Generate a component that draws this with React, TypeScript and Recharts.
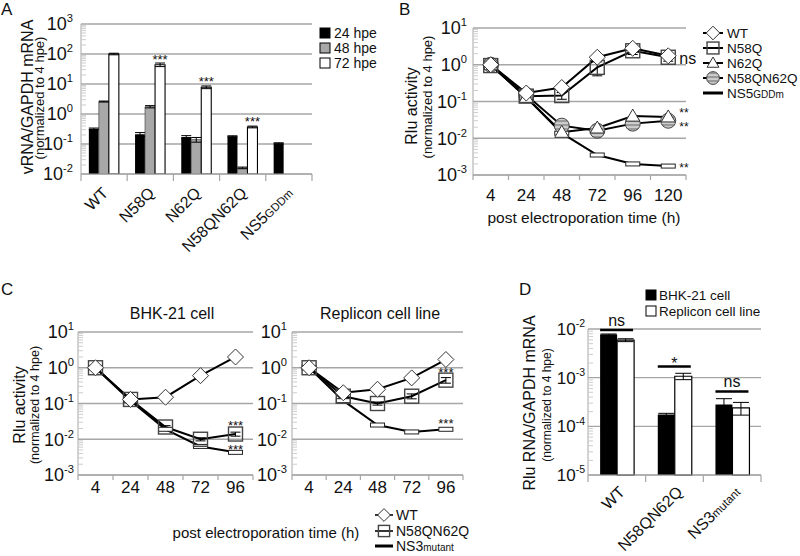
import React from 'react';
import {
  BarChart,
  Bar,
  LineChart,
  Line,
  XAxis,
  YAxis,
  CartesianGrid,
  ErrorBar,
  LabelList,
} from 'recharts';

const FONT = '"Liberation Sans", Arial, Helvetica, sans-serif';
const GRID = '#a6a6a6';
const AXIS = '#a6a6a6';
const INK = '#111';

// ---------------- Panel A ----------------
const groupsA = ['WT', 'N58Q', 'N62Q', 'N58QN62Q', 'NS5GDDm'];
const seriesA = ['24 hpe', '48 hpe', '72 hpe'];
const vals24 = [0.32, 0.21, 0.17, 0.18, 0.105];
const vals48 = [2.6, 1.75, 0.14, 0.016, null];
const vals72 = [100, 44, 7.8, 0.37, null];
const errs24 = [0.02, 0.03, 0.02, 0.008, 0.005];
const errs48 = [0.1, 0.15, 0.025, 0.001, null];
const errs72 = [6, 6, 0.8, 0.025, null];
const sigA = ['', '***', '***', '***', ''];

// ---------------- Panel B ----------------
const timesB = ['4', '24', '48', '72', '96', '120'];
const seriesB = ['WT', 'N58Q', 'N62Q', 'N58QN62Q', 'NS5GDDm'];
const wtB = [1.0, 0.17, 0.24, 1.6, 2.8, 1.75];
const n58qB = [0.95, 0.14, 0.145, 0.85, 2.4, 1.6];
const n62qB = [1.0, 0.13, 0.0145, 0.019, 0.04, 0.038];
const dblB = [1.0, 0.15, 0.022, 0.016, 0.025, 0.03];
const ns5B = [1.0, 0.13, 0.0137, 0.0035, 0.002, 0.00175];
const errWtB = [0.03, 0.01, 0.02, 0.1, 0.2, 0.15];
const errN58qB = [0.05, 0.02, 0.03, 0.35, 0.5, 0.35];
const sigN58qB = ['', '', '', '', '', 'ns'];
const sigN62qB = ['', '', '', '', '', '**'];
const sigDblB = ['', '', '', '', '', '**'];
const sigNs5B = ['', '', '', '', '', '**'];

// ---------------- Panel C ----------------
const timesC = ['4', '24', '48', '72', '96'];
const seriesC = ['WT', 'N58QN62Q', 'NS3mutant'];
const wtBhk = [1.0, 0.13, 0.15, 0.6, 2.0];
const dblBhk = [1.0, 0.13, 0.022, 0.01, 0.014];
const ns3Bhk = [1.0, 0.12, 0.019, 0.0063, 0.0043];
const wtRep = [1.0, 0.2, 0.25, 0.52, 1.7];
const dblRep = [1.0, 0.16, 0.1, 0.16, 0.45];
const ns3Rep = [1.0, 0.12, 0.025, 0.016, 0.019];
const errDblBhk = [0.05, 0.01, 0.002, 0.001, 0.0018];
const errDblRep = [0.05, 0.02, 0.01, 0.025, 0.08];
const sigDblC = ['', '', '', '', '***'];
const sigNs3C = ['', '', '', '', '***'];

// ---------------- Panel D ----------------
const groupsD = ['WT', 'N58QN62Q', 'NS3mutant'];
const seriesD = ['BHK-21 cell', 'Replicon cell line'];
const bhkD = [0.0077, 0.000175, 0.00028];
const repD = [0.0059, 0.00107, 0.00024];
const errBhkD = [0.0002, 0.00001, 0.00009];
const errRepD = [0.0004, 0.00016, 0.00007];
const sigD = ['ns', '*', 'ns'];
const sigLevelD = [0.0095, 0.0017, 0.00052];

// ---------------- helpers ----------------
function logTicks(lo: number, hi: number): number[] {
  const out: number[] = [];
  for (let e = lo; e <= hi; e++) {
    const base = Math.pow(10, e);
    out.push(base);
    if (e < hi) for (let k = 2; k <= 9; k++) out.push(Number((k * base).toPrecision(6)));
  }
  return out;
}
function majors(lo: number, hi: number): number[] {
  const out: number[] = [];
  for (let e = lo; e <= hi; e++) out.push(Math.pow(10, e));
  return out;
}
function splitName(s: string): [string, string] {
  const m = s.match(/^(NS\d)(.+)$/);
  return m ? [m[1], m[2]] : [s, ''];
}

function logTick(size: number, gap: number) {
  return (p: any) => {
    const { x, y, payload } = p;
    const v = Number(payload.value);
    const lg = Math.log10(v);
    const e = Math.round(lg);
    const major = Math.abs(lg - e) < 1e-6;
    if (!major) {
      return <line x1={x} x2={x + 5} y1={y} y2={y} stroke="#cdcdcd" strokeWidth={1} />;
    }
    return (
      <text x={x - gap} y={y + size * 0.36} textAnchor="end" fontSize={size} fontFamily={FONT} fill={INK}>
        10
        <tspan dy={-size * 0.45} fontSize={size * 0.62}>
          {String(e)}
        </tspan>
      </text>
    );
  };
}

function rotTick(bw: number, n: number, size: number, dx: number, dy: number) {
  return (p: any) => {
    const { x, y, payload, index } = p;
    const [main, sub] = splitName(String(payload.value));
    const ax = x + dx;
    const ay = y + dy;
    return (
      <g>
        <line x1={x - bw / 2} x2={x - bw / 2} y1={y} y2={y + 7} stroke={AXIS} strokeWidth={1.2} />
        {index === n - 1 ? (
          <line x1={x + bw / 2} x2={x + bw / 2} y1={y} y2={y + 7} stroke={AXIS} strokeWidth={1.2} />
        ) : null}
        <text x={ax} y={ay} transform={`rotate(-45 ${ax} ${ay})`} textAnchor="end" fontSize={size} fontFamily={FONT} fill={INK}>
          {main}
          {sub ? <tspan fontSize={size * 0.72}>{sub}</tspan> : null}
        </text>
      </g>
    );
  };
}

function plainTick(bw: number, n: number, size: number, dy: number) {
  return (p: any) => {
    const { x, y, payload, index } = p;
    return (
      <g>
        <line x1={x - bw / 2} x2={x - bw / 2} y1={y} y2={y + 5} stroke={AXIS} strokeWidth={1.2} />
        {index === n - 1 ? (
          <line x1={x + bw / 2} x2={x + bw / 2} y1={y} y2={y + 5} stroke={AXIS} strokeWidth={1.2} />
        ) : null}
        <text x={x} y={y + dy} textAnchor="middle" fontSize={size} fontFamily={FONT} fill={INK}>
          {String(payload.value)}
        </text>
      </g>
    );
  };
}

type Kind = 'diamond' | 'square' | 'triangle' | 'circle' | 'flat';
function marker(kind: Kind, cx: number, cy: number, key?: string, scale = 1) {
  const s = scale;
  switch (kind) {
    case 'diamond':
      return (
        <path key={key} d={`M${cx},${cy - 8 * s}L${cx + 8 * s},${cy}L${cx},${cy + 8 * s}L${cx - 8 * s},${cy}Z`} fill="#fff" stroke="#333" strokeWidth={1} />
      );
    case 'square':
      return <rect key={key} x={cx - 7 * s} y={cy - 7 * s} width={14 * s} height={14 * s} fill="none" stroke="#444" strokeWidth={1.4} />;
    case 'triangle':
      return <path key={key} d={`M${cx},${cy - 7 * s}L${cx + 7 * s},${cy + 5 * s}L${cx - 7 * s},${cy + 5 * s}Z`} fill="#fff" stroke="#333" strokeWidth={1} />;
    case 'circle':
      return <circle key={key} cx={cx} cy={cy} r={7.5 * s} fill="url(#stripes)" stroke="#444" strokeWidth={1} />;
    case 'flat':
    default:
      return <rect key={key} x={cx - 7} y={cy - 2} width={14} height={4} fill="#fff" stroke="#222" strokeWidth={1} />;
  }
}
function dotOf(kind: Kind) {
  return (p: any) => {
    const { cx, cy, index } = p;
    const key = `${kind}-${index}`;
    if (cx == null || cy == null) return <g key={key} />;
    return marker(kind, cx, cy, key);
  };
}

function sigText(dx: number, dy: number, size: number, anchor: 'start' | 'middle') {
  return (p: any) => {
    const x = p.x ?? p.viewBox?.x;
    const y = p.y ?? p.viewBox?.y;
    if (!p.value || x == null || y == null) return <g />;
    return (
      <text x={x + dx} y={y + dy} textAnchor={anchor} fontSize={size} fontFamily={FONT} fill={INK}>
        {p.value}
      </text>
    );
  };
}

const barStars = (p: any) => {
  if (!p.value) return <g />;
  const w = p.width ?? 0;
  return (
    <text x={p.x + w / 2} y={p.y - 1} textAnchor="middle" fontSize={13} fontFamily={FONT} fill={INK}>
      {p.value}
    </text>
  );
};

const sigShape = (p: any) => {
  const { x, y, width, payload } = p;
  const txt = String(payload?.sig ?? '');
  const stars = /^\*+$/.test(txt);
  return (
    <g>
      <line x1={x} x2={x + width} y1={y} y2={y} stroke="#000" strokeWidth={2.5} />
      <text x={x + width / 2} y={stars ? y + 3 : y - 4} textAnchor="middle" fontSize={16} fontFamily={FONT} fill={INK}>
        {txt}
      </text>
    </g>
  );
};

const Stripes = () => (
  <defs>
    <pattern id="stripes" width="4" height="4" patternUnits="userSpaceOnUse">
      <rect width="4" height="4" fill="#9a9a9a" />
      <rect y="2.4" width="4" height="1.3" fill="#e6e6e6" />
    </pattern>
  </defs>
);

// ---------------- data tables ----------------
const dataA = groupsA.map((g, i) => ({
  g,
  h24: vals24[i],
  h48: vals48[i],
  h72: vals72[i],
  e24: errs24[i],
  e48: errs48[i],
  e72: errs72[i],
  sig: sigA[i],
}));
const dataB = timesB.map((t, i) => ({
  t,
  wt: wtB[i],
  n58q: n58qB[i],
  n62q: n62qB[i],
  dbl: dblB[i],
  ns5: ns5B[i],
  eWt: errWtB[i],
  eN58q: errN58qB[i],
  sN58q: sigN58qB[i],
  sN62q: sigN62qB[i],
  sDbl: sigDblB[i],
  sNs5: sigNs5B[i],
}));
const dataBhk = timesC.map((t, i) => ({
  t,
  wt: wtBhk[i],
  dbl: dblBhk[i],
  ns3: ns3Bhk[i],
  eDbl: errDblBhk[i],
  sDbl: sigDblC[i],
  sNs3: sigNs3C[i],
}));
const dataRep = timesC.map((t, i) => ({
  t,
  wt: wtRep[i],
  dbl: dblRep[i],
  ns3: ns3Rep[i],
  eDbl: errDblRep[i],
  sDbl: sigDblC[i],
  sNs3: sigNs3C[i],
}));
const dataD = groupsD.map((g, i) => ({
  g,
  bhk: bhkD[i],
  rep: repD[i],
  eb: errBhkD[i],
  er: errRepD[i],
  lvl: sigLevelD[i],
  sig: sigD[i],
}));

const colorsA = ['#000000', '#a8a8a8', '#ffffff'];
const kindsB: Kind[] = ['diamond', 'square', 'triangle', 'circle', 'flat'];
const kindsC: Kind[] = ['diamond', 'square', 'flat'];
const colorsD = ['#000000', '#ffffff'];

// ---------------- sub charts ----------------
function ChartC(props: { data: any[]; width: number; yw: number; right: number; gap: number; starDy: [number, number] }) {
  const { data, width, yw, right, gap, starDy } = props;
  const bw = (width - yw - right) / timesC.length;
  return (
    <LineChart width={width} height={266} data={data} margin={{ top: 42, right, bottom: 0, left: 0 }}>
      <Stripes />
      <CartesianGrid vertical={false} horizontalValues={majors(-3, 1)} stroke={GRID} strokeWidth={1.3} />
      <XAxis
        dataKey="t"
        height={81}
        padding={{ left: bw / 2, right: bw / 2 }}
        tickLine={false}
        tickSize={0}
        tickMargin={0}
        stroke={AXIS}
        interval={0}
        tick={plainTick(bw, timesC.length, 17, 18)}
      />
      <YAxis
        scale="log"
        domain={[0.001, 10]}
        allowDataOverflow
        ticks={logTicks(-3, 1)}
        interval={0}
        width={yw}
        tickLine={false}
        tickSize={0}
        tickMargin={0}
        stroke={AXIS}
        tick={logTick(18, gap)}
      />
      <Line dataKey="ns3" stroke="#000" strokeWidth={2} dot={dotOf('flat')} activeDot={false} isAnimationActive={false}>
        <LabelList dataKey="sNs3" content={sigText(0, starDy[1], 13, 'middle')} />
      </Line>
      <Line dataKey="dbl" stroke="#000" strokeWidth={2} dot={dotOf('square')} activeDot={false} isAnimationActive={false}>
        <ErrorBar dataKey="eDbl" width={5} stroke="#000" strokeWidth={1} />
        <LabelList dataKey="sDbl" content={sigText(0, starDy[0], 13, 'middle')} />
      </Line>
      <Line dataKey="wt" stroke="#000" strokeWidth={2} dot={dotOf('diamond')} activeDot={false} isAnimationActive={false} />
    </LineChart>
  );
}

export default function App() {
  const bwA = (400 - 81 - 88) / groupsA.length;
  const bwB = (400 - 73 - 114) / timesB.length;
  const bwD = (300 - 88 - 39) / groupsD.length;
  const t = (x: number, y: number, s: number, txt: React.ReactNode, anchor: 'start' | 'middle' | 'end' = 'start', rot = 0) => (
    <text
      x={x}
      y={y}
      fontSize={s}
      fontFamily={FONT}
      fill={INK}
      textAnchor={anchor}
      transform={rot ? `rotate(${rot} ${x} ${y})` : undefined}
    >
      {txt}
    </text>
  );
  const rowsA = [33, 48, 63];
  const rowsB = [33, 48, 63, 78, 93];
  const rowsC = [515, 531, 546];
  const rowsD = [295, 311];

  return (
    <div style={{ position: 'absolute', left: 0, top: 0, width: 800, height: 556, background: '#fff', overflow: 'hidden' }}>
      {/* Panel A */}
      <div style={{ position: 'absolute', left: 0, top: 0 }}>
        <BarChart width={400} height={280} data={dataA} margin={{ top: 24, right: 88, bottom: 0, left: 0 }} barCategoryGap="17%" barGap={0}>
          <CartesianGrid vertical={false} horizontalValues={majors(-2, 3)} stroke={GRID} strokeWidth={1.3} />
          <XAxis
            dataKey="g"
            height={106}
            tickLine={false}
            tickSize={0}
            tickMargin={0}
            stroke={AXIS}
            interval={0}
            tick={rotTick(bwA, groupsA.length, 16, 5, 20)}
          />
          <YAxis
            scale="log"
            domain={[0.01, 1000]}
            allowDataOverflow
            ticks={logTicks(-2, 3)}
            interval={0}
            width={81}
            tickLine={false}
            tickSize={0}
            tickMargin={0}
            stroke={AXIS}
            tick={logTick(18, 8)}
          />
          <Bar dataKey="h24" fill={colorsA[0]} isAnimationActive={false}>
            <ErrorBar dataKey="e24" width={5} stroke="#000" strokeWidth={1} />
          </Bar>
          <Bar dataKey="h48" fill={colorsA[1]} stroke="#555" strokeWidth={0.8} isAnimationActive={false}>
            <ErrorBar dataKey="e48" width={5} stroke="#000" strokeWidth={1} />
          </Bar>
          <Bar dataKey="h72" fill={colorsA[2]} stroke="#000" strokeWidth={1.1} isAnimationActive={false}>
            <ErrorBar dataKey="e72" width={5} stroke="#000" strokeWidth={1} />
            <LabelList dataKey="sig" content={barStars} />
          </Bar>
        </BarChart>
      </div>

      {/* Panel B */}
      <div style={{ position: 'absolute', left: 400, top: 0 }}>
        <LineChart width={400} height={280} data={dataB} margin={{ top: 28, right: 114, bottom: 0, left: 0 }}>
          <Stripes />
          <CartesianGrid vertical={false} horizontalValues={majors(-3, 1)} stroke={GRID} strokeWidth={1.3} />
          <XAxis
            dataKey="t"
            height={105}
            padding={{ left: bwB / 2, right: bwB / 2 }}
            tickLine={false}
            tickSize={0}
            tickMargin={0}
            stroke={AXIS}
            interval={0}
            tick={plainTick(bwB, timesB.length, 17, 26)}
          />
          <YAxis
            scale="log"
            domain={[0.001, 10]}
            allowDataOverflow
            ticks={logTicks(-3, 1)}
            interval={0}
            width={73}
            tickLine={false}
            tickSize={0}
            tickMargin={0}
            stroke={AXIS}
            tick={logTick(18, 6)}
          />
          <Line dataKey="ns5" stroke="#000" strokeWidth={2} dot={dotOf('flat')} activeDot={false} isAnimationActive={false}>
            <LabelList dataKey="sNs5" content={sigText(11, 6, 12, 'start')} />
          </Line>
          <Line dataKey="dbl" stroke="#000" strokeWidth={2} dot={dotOf('circle')} activeDot={false} isAnimationActive={false}>
            <LabelList dataKey="sDbl" content={sigText(11, 10, 12, 'start')} />
          </Line>
          <Line dataKey="n62q" stroke="#000" strokeWidth={2} dot={dotOf('triangle')} activeDot={false} isAnimationActive={false}>
            <LabelList dataKey="sN62q" content={sigText(11, 0, 12, 'start')} />
          </Line>
          <Line dataKey="n58q" stroke="#000" strokeWidth={2} dot={dotOf('square')} activeDot={false} isAnimationActive={false}>
            <ErrorBar dataKey="eN58q" width={5} stroke="#000" strokeWidth={1} />
            <LabelList dataKey="sN58q" content={sigText(11, 7, 16, 'start')} />
          </Line>
          <Line dataKey="wt" stroke="#000" strokeWidth={2} dot={dotOf('diamond')} activeDot={false} isAnimationActive={false}>
            <ErrorBar dataKey="eWt" width={5} stroke="#000" strokeWidth={1} />
          </Line>
        </LineChart>
      </div>

      {/* Panel C */}
      <div style={{ position: 'absolute', left: 0, top: 290 }}>
        <ChartC data={dataBhk} width={270} yw={78} right={17} gap={4} starDy={[-4, 2]} />
      </div>
      <div style={{ position: 'absolute', left: 230, top: 290 }}>
        <ChartC data={dataRep} width={250} yw={62} right={17} gap={5} starDy={[-3, -1]} />
      </div>

      {/* Panel D */}
      <div style={{ position: 'absolute', left: 500, top: 290 }}>
        <BarChart width={300} height={266} data={dataD} margin={{ top: 39, right: 39, bottom: 0, left: 0 }} barCategoryGap="21%" barGap={0}>
          <CartesianGrid vertical={false} horizontalValues={majors(-5, -2)} stroke={GRID} strokeWidth={1.3} />
          <XAxis
            dataKey="g"
            height={81}
            tickLine={false}
            tickSize={0}
            tickMargin={0}
            stroke={AXIS}
            interval={0}
            tick={rotTick(bwD, groupsD.length, 16, 9, 18)}
          />
          <XAxis xAxisId="sig" dataKey="g" hide />
          <YAxis
            scale="log"
            domain={[0.00001, 0.01]}
            ticks={logTicks(-5, -2)}
            interval={0}
            width={88}
            tickLine={false}
            tickSize={0}
            tickMargin={0}
            stroke={AXIS}
            tick={logTick(17, 3)}
          />
          <Bar dataKey="bhk" fill={colorsD[0]} isAnimationActive={false}>
            <ErrorBar dataKey="eb" width={8} stroke="#000" strokeWidth={1} />
          </Bar>
          <Bar dataKey="rep" fill={colorsD[1]} stroke="#000" strokeWidth={1.2} isAnimationActive={false}>
            <ErrorBar dataKey="er" width={8} stroke="#000" strokeWidth={1} />
          </Bar>
          <Bar dataKey="lvl" xAxisId="sig" fill="none" shape={sigShape} isAnimationActive={false} />
        </BarChart>
      </div>

      {/* Overlay: letters, titles, legends */}
      <svg width={800} height={556} style={{ position: 'absolute', left: 0, top: 0, pointerEvents: 'none' }}>
        <Stripes />
        {t(1, 15, 17, 'A')}
        {t(399, 15, 17, 'B')}
        {t(1, 295, 17, 'C')}
        {t(519, 295, 17, 'D')}

        {/* axis titles */}
        {t(33, 97, 16, 'vRNA/GAPDH mRNA', 'middle', -90)}
        {t(44, 98, 13, '(normalized to 4 hpe)', 'middle', -90)}
        {t(417, 106, 16, 'Rlu activity', 'middle', -90)}
        {t(432, 97, 13, '(normalized to 4 hpe)', 'middle', -90)}
        {t(25, 405, 16, 'Rlu activity', 'middle', -90)}
        {t(39, 405, 12.5, '(normalized to 4 hpe)', 'middle', -90)}
        {t(535, 403, 16, 'Rlu RNA/GAPDH mRNA', 'middle', -90)}
        {t(551, 405, 12, '(normalized to 4 hpe)', 'middle', -90)}

        {t(584, 223, 15.5, 'post electroporation time (h)', 'middle')}
        {t(266, 538, 15, 'post electroporation time (h)', 'middle')}
        {t(172, 319, 16, 'BHK-21 cell', 'middle')}
        {t(380, 319, 16, 'Replicon cell line', 'middle')}

        {/* legend A */}
        {seriesA.map((s, i) => (
          <g key={s}>
            <rect x={320} y={rowsA[i] - 5} width={10} height={10} fill={colorsA[i]} stroke="#000" strokeWidth={1} />
            {t(334, rowsA[i] + 5, 14, s)}
          </g>
        ))}

        {/* legend B */}
        {seriesB.map((s, i) => {
          const [m, sub] = splitName(s);
          const k = kindsB[i];
          return (
            <g key={s}>
              <line x1={703} x2={723} y1={rowsB[i]} y2={rowsB[i]} stroke="#000" strokeWidth={k === 'flat' ? 3 : 2} />
              {k !== 'flat' ? marker(k, 713, rowsB[i], undefined, 0.85) : null}
              {t(
                727,
                rowsB[i] + 5,
                13.5,
                <>
                  {m}
                  {sub ? <tspan fontSize={10}>{sub}</tspan> : null}
                </>,
              )}
            </g>
          );
        })}

        {/* legend C */}
        {seriesC.map((s, i) => {
          const [m, sub] = splitName(s);
          const k = kindsC[i];
          return (
            <g key={s}>
              <line x1={375} x2={393} y1={rowsC[i]} y2={rowsC[i]} stroke="#000" strokeWidth={k === 'flat' ? 3 : 1.6} />
              {k !== 'flat' ? marker(k, 384, rowsC[i], undefined, 0.8) : null}
              {t(
                396,
                rowsC[i] + 5,
                14,
                <>
                  {m}
                  {sub ? <tspan fontSize={10}>{sub}</tspan> : null}
                </>,
              )}
            </g>
          );
        })}

        {/* legend D */}
        {seriesD.map((s, i) => (
          <g key={s}>
            <rect x={646} y={rowsD[i] - 5} width={10} height={10} fill={colorsD[i]} stroke="#000" strokeWidth={1} />
            {t(659, rowsD[i] + 5, 13.5, s)}
          </g>
        ))}
      </svg>
    </div>
  );
}
